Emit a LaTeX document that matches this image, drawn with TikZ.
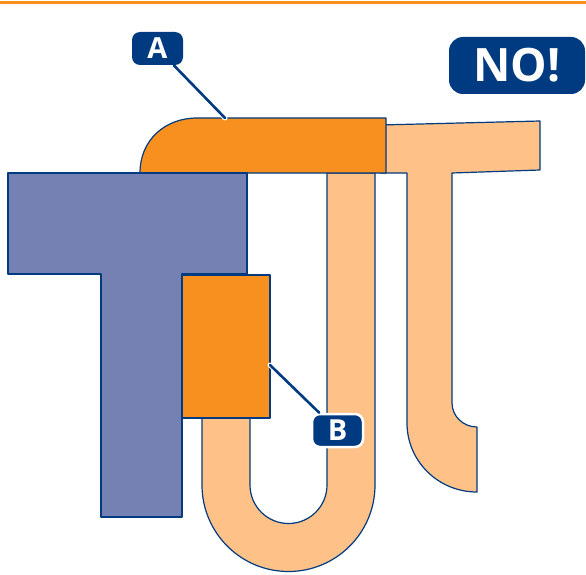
\documentclass[tikz,border=0pt]{standalone}
\usepackage{fontspec}
\newfontfamily\tagfont{Open Sans}
\definecolor{navy}{RGB}{0,58,128}
\definecolor{slate}{RGB}{118,129,179}
\definecolor{pipeorange}{RGB}{247,144,30}
\definecolor{pipelight}{RGB}{254,194,136}
\begin{document}
\begin{tikzpicture}[x=1pt,y=-1pt,
    edge/.style={draw=navy,line width=1.2pt,line join=round},
    pointer/.style={navy,line width=2.6pt,line cap=round},
    casing/.style={white,line width=5pt,line cap=round,shorten <=6pt},
    tag/.style={fill=navy,text=white,rounded corners=8pt,inner sep=0pt,
      minimum width=51pt,minimum height=33pt,
      font=\tagfont\bfseries\fontsize{29}{29}\selectfont}]
  \useasboundingbox (0,0) rectangle (586,575);
  \draw[pipeorange,line width=2.5pt] (0,2.5) -- (586,2.5);
  % light tee on the right
  \fill[pipelight,edge] (380,125) -- (540,121) -- (540,170) -- (452,173) -- (452,403)
    .. controls (452,416) and (463,427) .. (477,427) -- (477,492)
    .. controls (438,492) and (407,461) .. (407,423) -- (407,173) -- (380,173) -- cycle;
  % u-bend
  \fill[pipelight,edge] (202,410) -- (202,485) arc[start angle=180,end angle=0,radius=86.5]
    -- (375,173) -- (327,173) -- (327,485) arc[start angle=0,end angle=180,radius=38.5]
    -- (250,410) -- cycle;
  % piece A
  \fill[pipeorange,edge] (140,173) .. controls (140,140) and (165,118) .. (197,118)
    -- (386,118) -- (386,173) -- cycle;
  % blue tee
  \fill[slate,edge] (8,173) -- (247,173) -- (247,274) -- (182,274) -- (182,517)
    -- (101,517) -- (101,274) -- (8,274) -- cycle;
  % piece B
  \fill[pipeorange,edge] (182,275) rectangle (270,418);
  % labels
  \node[tag,rounded corners=14pt,minimum width=136pt,minimum height=57pt,
    font=\tagfont\bfseries\fontsize{46}{46}\selectfont] (no) at (517,65.5) {NO!};
  \node[tag] (labA) at (157.5,48.5) {A};
  \node[tag,draw=white,line width=2.5pt] (labB) at (337.5,430.5) {B};
  \coordinate (tipA) at (225,118);
  \coordinate (tipB) at (270,365);
  \draw[casing] (labA) -- (tipA);
  \draw[pointer] (labA) -- (tipA);
  \draw[casing] (labB) -- (tipB);
  \draw[pointer] (labB) -- (tipB);
\end{tikzpicture}
\end{document}
